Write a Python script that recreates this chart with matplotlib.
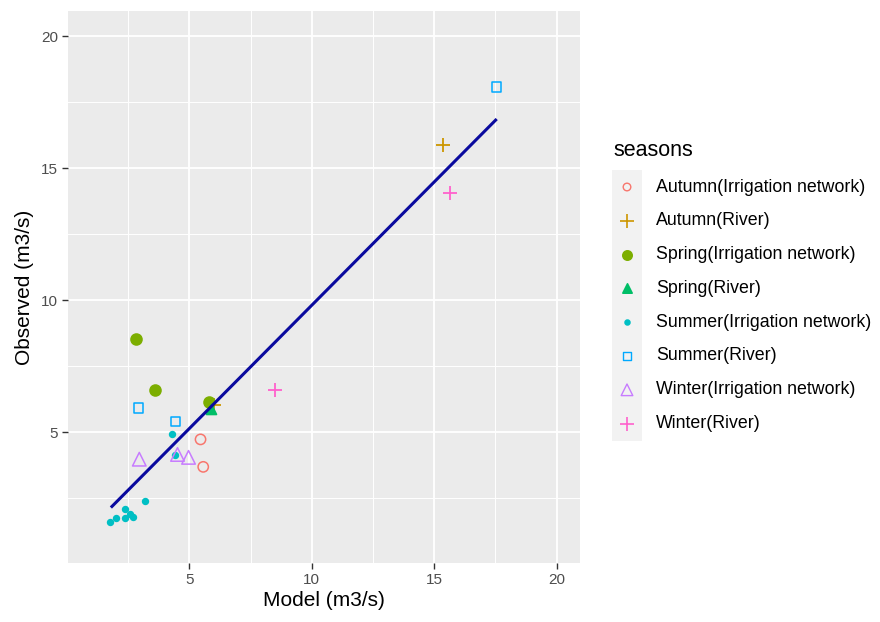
import matplotlib
matplotlib.use("Agg")
import matplotlib.pyplot as plt
from matplotlib.patches import Rectangle
import numpy as np

plt.rcParams['font.family'] = ['Liberation Sans', 'DejaVu Sans']

# ---- data ----
series_names = ["Autumn(Irrigation network)", "Autumn(River)",
                "Spring(Irrigation network)", "Spring(River)",
                "Summer(Irrigation network)", "Summer(River)",
                "Winter(Irrigation network)", "Winter(River)"]

autumn_in_x = [5.46, 5.57]
autumn_in_y = [4.73, 3.69]
autumn_river_x = [15.37, 6.02]
autumn_river_y = [15.87, 6.05]
spring_in_x = [2.82, 3.60, 5.82]
spring_in_y = [8.55, 6.60, 6.14]
spring_river_x = [5.88]
spring_river_y = [5.87]
summer_in_x = [4.29, 4.40, 3.20, 2.37, 2.58, 2.71, 2.37, 2.00, 1.76]
summer_in_y = [4.94, 4.13, 2.39, 2.11, 1.92, 1.81, 1.75, 1.75, 1.60]
summer_river_x = [2.93, 4.44, 17.54]
summer_river_y = [5.92, 5.42, 18.07]
winter_in_x = [2.96, 4.52, 4.97]
winter_in_y = [3.98, 4.16, 4.05]
winter_river_x = [15.65, 8.51]
winter_river_y = [14.05, 6.59]

fit_x = [1.80, 17.55]
fit_y = [2.15, 16.86]

x_ticks = [5, 10, 15, 20]
y_ticks = [5, 10, 15, 20]

# ---- styles ----
colors = ["#F8766D", "#CD9600", "#7CAE00", "#00BE67",
          "#00BFC4", "#00A9FF", "#C77CFF", "#FF61CC"]
markers = ["o", "+", "o", "^", "o", "s", "^", "+"]
filled = [False, False, True, True, True, False, False, False]
sizes = [55, 110, 60, 50, 16, 45, 95, 110]
leg_sizes = [30, 110, 45, 45, 12, 40, 70, 110]

xs = [autumn_in_x, autumn_river_x, spring_in_x, spring_river_x,
      summer_in_x, summer_river_x, winter_in_x, winter_river_x]
ys = [autumn_in_y, autumn_river_y, spring_in_y, spring_river_y,
      summer_in_y, summer_river_y, winter_in_y, winter_river_y]

W, H = 880, 622
fig = plt.figure(figsize=(W / 100, H / 100), dpi=100)

# panel in pixel coordinates
pl, pr, pt, pb = 68, 580, 11, 563
ax = fig.add_axes([pl / W, 1 - pb / H, (pr - pl) / W, (pb - pt) / H])
ax.set_facecolor("#EBEBEB")
for s in ax.spines.values():
    s.set_visible(False)
ax.set_xlim(0.05, 20.95)
ax.set_ylim(0.05, 20.95)
ax.set_xticks(x_ticks)
ax.set_yticks(y_ticks)
ax.set_xticks([2.5, 7.5, 12.5, 17.5], minor=True)
ax.set_yticks([2.5, 7.5, 12.5, 17.5], minor=True)
ax.grid(which="major", color="white", linewidth=1.3)
ax.grid(which="minor", color="white", linewidth=0.7)
ax.set_axisbelow(True)
ax.tick_params(which="major", length=4, width=1.0, color="#333333",
               labelsize=11, labelcolor="#4D4D4D", pad=3)
ax.tick_params(which="minor", length=0)
ax.set_xlabel("Model (m3/s)", fontsize=15, labelpad=3)
ax.set_ylabel("Observed (m3/s)", fontsize=15, labelpad=5)

for i in range(8):
    if filled[i] or markers[i] == "+":
        ax.scatter(xs[i], ys[i], s=sizes[i], marker=markers[i],
                   color=colors[i], linewidths=1.3, zorder=3)
    else:
        ax.scatter(xs[i], ys[i], s=sizes[i], marker=markers[i],
                   facecolors="none", edgecolors=colors[i],
                   linewidths=1.1, zorder=3)

ax.plot(fit_x, fit_y, color="#0A0A9E", linewidth=2.2, zorder=4,
        solid_capstyle="butt")

# ---- legend (manual, ggplot style) ----
lax = fig.add_axes([0, 0, 1, 1])
lax.set_xlim(0, W)
lax.set_ylim(H, 0)
lax.axis("off")
lax.text(613, 150, "seasons", fontsize=15.5, va="center", ha="left")
key_x0, key_x1 = 612, 642
y0, dy = 187, 33.8
lax.add_patch(Rectangle((key_x0, y0 - dy / 2), key_x1 - key_x0, dy * 8,
                        facecolor="#F2F2F2", edgecolor="none"))
kx = (key_x0 + key_x1) / 2
for i, name in enumerate(series_names):
    yy = y0 + i * dy
    if filled[i] or markers[i] == "+":
        lax.scatter([kx], [yy], s=leg_sizes[i], marker=markers[i],
                    color=colors[i], linewidths=1.2)
    else:
        lax.scatter([kx], [yy], s=leg_sizes[i], marker=markers[i],
                    facecolors="none", edgecolors=colors[i], linewidths=1.0)
    lax.text(656, yy, name, fontsize=12.8, va="center", ha="left")

fig.savefig("out.png", dpi=100)
